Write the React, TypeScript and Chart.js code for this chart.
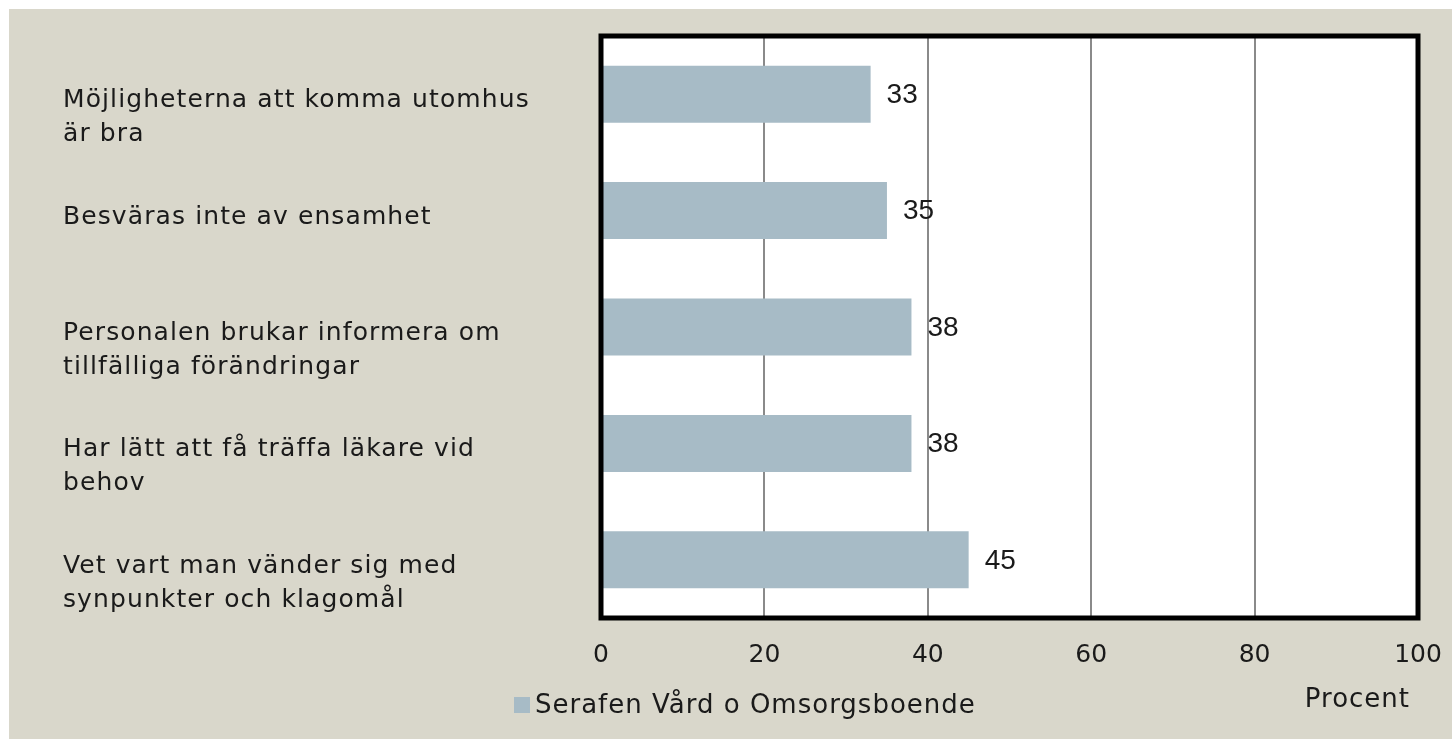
import { useEffect, useRef } from "react";
import { Chart, registerables } from "chart.js";

Chart.register(...registerables);

const categories: string[][] = [
  ["Möjligheterna att komma utomhus", "är bra"],
  ["Besväras inte av ensamhet"],
  ["Personalen brukar informera om", "tillfälliga förändringar"],
  ["Har lätt att få träffa läkare vid", "behov"],
  ["Vet vart man vänder sig med", "synpunkter och klagomål"],
];
const values: number[] = [33, 35, 38, 38, 45];
const seriesName = "Serafen Vård o Omsorgsboende";
const axisTitle = "Procent";
const xMin = 0;
const xMax = 100;
const xStep = 20;

const BG = "#D9D7CB";
const BAR = "#A7BBC6";
const TEXT = "#1a1a1a";
const FONT = "DejaVu Sans";

export default function App() {
  const ref = useRef<HTMLCanvasElement | null>(null);

  useEffect(() => {
    const canvas = ref.current;
    if (!canvas) return;

    const decor = {
      id: "decor",
      beforeDraw(chart: any) {
        const { ctx, chartArea } = chart;
        ctx.save();
        ctx.fillStyle = BG;
        ctx.fillRect(0, 0, chart.width, chart.height);
        ctx.fillStyle = "#ffffff";
        ctx.fillRect(chartArea.left, chartArea.top, chartArea.right - chartArea.left, chartArea.bottom - chartArea.top);
        ctx.restore();
      },
      afterDatasetsDraw(chart: any) {
        const { ctx, chartArea } = chart;
        const yScale = chart.scales.y;
        ctx.save();
        // value labels
        const meta = chart.getDatasetMeta(0);
        ctx.fillStyle = TEXT;
        ctx.font = "28px 'Liberation Sans'";
        ctx.textBaseline = "middle";
        ctx.textAlign = "left";
        meta.data.forEach((el: any, i: number) => {
          ctx.fillText(String(values[i]), el.x + 16, el.y + 1);
        });
        // border
        ctx.strokeStyle = "#000000";
        ctx.lineWidth = 5;
        ctx.strokeRect(chartArea.left, chartArea.top, chartArea.right - chartArea.left, chartArea.bottom - chartArea.top);
        // category labels
        ctx.font = `25px '${FONT}'`;
        (ctx as any).letterSpacing = "1.1px";
        ctx.textBaseline = "alphabetic";
        ctx.fillStyle = TEXT;
        categories.forEach((lines, i) => {
          const cy = yScale.getPixelForValue(i);
          lines.forEach((line, j) => {
            ctx.fillText(line, 54, cy + 13 + j * 34);
          });
        });
        // axis title
        ctx.font = `26px '${FONT}'`;
        (ctx as any).letterSpacing = "1px";
        ctx.textAlign = "right";
        ctx.fillText(axisTitle, 1401, 698);
        // legend
        ctx.fillStyle = BAR;
        ctx.fillRect(505, 688, 16, 16);
        ctx.fillStyle = TEXT;
        ctx.textAlign = "left";
        ctx.textBaseline = "middle";
        ctx.fillText(seriesName, 526, 697);
        (ctx as any).letterSpacing = "0px";
        ctx.restore();
      },
    };

    const chart = new Chart(canvas, {
      type: "bar",
      data: {
        labels: categories.map((c) => c.join(" ")),
        datasets: [
          {
            label: seriesName,
            data: values,
            backgroundColor: BAR,
            borderWidth: 0,
            categoryPercentage: 1,
            barPercentage: 0.49,
          },
        ],
      },
      options: {
        indexAxis: "y",
        responsive: false,
        devicePixelRatio: 1,
        animation: false,
        layout: { padding: { left: 592, top: 27, right: 34, bottom: 0 } },
        plugins: {
          legend: { display: false },
          tooltip: { enabled: false },
          title: { display: false },
        },
        scales: {
          x: {
            type: "linear",
            min: xMin,
            max: xMax,
            ticks: {
              stepSize: xStep,
              color: TEXT,
              font: { family: FONT, size: 25 },
              padding: 22,
            },
            grid: { color: "#8a8a8a", lineWidth: 2, drawTicks: false },
            border: { display: false },
            afterFit: (scale: any) => {
              scale.height = 121;
              scale.paddingLeft = 0;
              scale.paddingRight = 0;
            },
          },
          y: {
            type: "category",
            display: false,
            grid: { display: false },
          },
        },
      },
      plugins: [decor],
    });

    return () => chart.destroy();
  }, []);

  return (
    <div style={{ position: "absolute", left: 9, top: 9, width: 1443, height: 730 }}>
      <canvas ref={ref} width={1443} height={730} style={{ display: "block" }} />
    </div>
  );
}
